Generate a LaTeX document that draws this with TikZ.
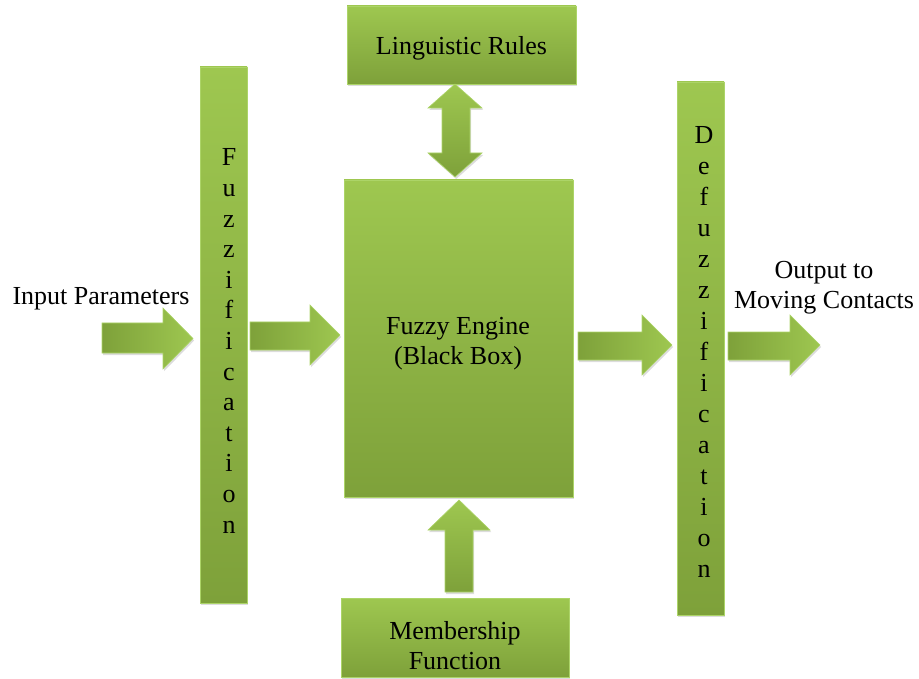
\documentclass[tikz,border=0pt]{standalone}
\usepackage{fontspec}
\setmainfont{Liberation Serif}
\usetikzlibrary{shadows}
\definecolor{gLight}{RGB}{158,199,80}
\definecolor{gDark}{RGB}{126,161,58}
\definecolor{gEdge}{RGB}{172,212,104}
\begin{document}
\begin{tikzpicture}[x=1pt,y=-1pt,
  every node/.style={font=\fontsize{26}{30}\selectfont, inner sep=0pt, align=center},
  shad/.style={drop shadow={opacity=0.28, shadow xshift=1.2pt, shadow yshift=-2pt}},
  box/.style={draw=gEdge, line width=0.8pt, top color=gLight, bottom color=gDark, shad},
  harrow/.style={draw=gEdge, line width=0.6pt, left color=gDark, right color=gLight, shad},
  varrow/.style={draw=gEdge, line width=0.6pt, top color=gLight, bottom color=gDark, shad}]
\useasboundingbox (0,0) rectangle (919,679);
% boxes
\node[box, minimum width=229pt, minimum height=78pt] (rules) at (461.5,45) {};
\node[box, minimum width=229pt, minimum height=317pt] (engine) at (458.5,338.5) {};
\node[box, minimum width=228pt, minimum height=79pt] (member) at (455,637.5) {};
\node[box, minimum width=47pt, minimum height=536pt] (fuzz) at (223.5,335) {};
\node[box, minimum width=47pt, minimum height=533pt] (defuzz) at (700.5,348.5) {};
% box texts
\node (rulestext) at (461.5,48) {Linguistic Rules};
\node (enginetext) at (458,344) {Fuzzy Engine\\(Black Box)};
\node (membertext) at (455,646) {Membership\\Function};
% vertical letters
\node[font=\fontsize{26}{30.6}\selectfont] (fuzztext) at (229,341)
  {F\\u\\z\\z\\i\\f\\i\\c\\a\\t\\i\\o\\n};
\node[font=\fontsize{26}{31}\selectfont] (defuzztext) at (704,352)
  {D\\e\\f\\u\\z\\z\\i\\f\\i\\c\\a\\t\\i\\o\\n};
% labels
\node (inlabel) at (101,299) {Input Parameters};
\node (outlabel) at (824,288) {Output to\\Moving Contacts};
% horizontal arrows
\path[harrow] (102,323) -- (163,323) -- (163,308) -- (193,338.5) -- (163,369) -- (163,353) -- (102,353) -- cycle;
\path[harrow] (250,322) -- (310,322) -- (310,305) -- (340,335) -- (310,365) -- (310,350) -- (250,350) -- cycle;
\path[harrow] (578,332) -- (642,332) -- (642,315) -- (672,345) -- (642,375) -- (642,360) -- (578,360) -- cycle;
\path[harrow] (728,332) -- (790,332) -- (790,315) -- (820,345) -- (790,375) -- (790,360) -- (728,360) -- cycle;
% double arrow between rules and engine
\path[varrow] (455,84) -- (482,108) -- (470,108) -- (470,153) -- (482,153) -- (455,177)
  -- (428,153) -- (442,153) -- (442,108) -- (428,108) -- cycle;
% up arrow from membership to engine
\path[varrow] (459,500) -- (490,530) -- (473,530) -- (473,592) -- (445,592) -- (445,530) -- (428,530) -- cycle;
\end{tikzpicture}
\end{document}
